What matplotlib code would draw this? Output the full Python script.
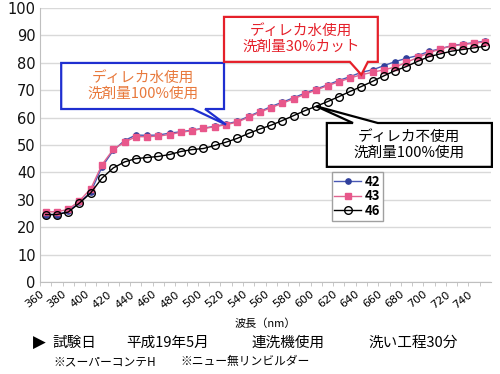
import numpy as np
import matplotlib
matplotlib.use('Agg')
import matplotlib.pyplot as plt
from matplotlib.patches import Polygon
from matplotlib.transforms import ScaledTranslation

plt.rcParams['font.family'] = ['Noto Sans CJK JP', 'DejaVu Sans']

# wavelength categories (nm)
wavelengths = list(range(360, 760, 10))

s42 = [24.6, 24.6, 25.8, 29.0, 32.8, 42.0, 48.0, 51.6, 53.6, 53.5,
       53.6, 54.3, 54.8, 55.4, 56.1, 56.8, 57.6, 58.6, 60.4, 62.2,
       64.0, 65.6, 67.2, 68.9, 70.4, 71.9, 73.5, 74.9, 76.5, 77.4,
       78.9, 80.4, 81.6, 82.6, 84.1, 85.1, 86.2, 86.8, 87.3, 87.9]
s43 = [25.6, 25.6, 26.5, 29.6, 34.0, 42.8, 48.4, 51.0, 53.0, 53.0,
       53.2, 53.8, 54.6, 55.2, 56.0, 56.6, 57.4, 58.3, 60.1, 61.9,
       63.6, 65.2, 66.8, 68.5, 70.0, 71.6, 73.0, 74.4, 75.6, 76.5,
       77.4, 78.4, 80.1, 81.9, 83.6, 85.0, 86.1, 86.6, 87.1, 87.6]
s46 = [24.6, 24.6, 25.5, 28.8, 32.5, 37.9, 41.6, 43.8, 45.0, 45.4,
       45.8, 46.5, 47.6, 48.3, 48.7, 49.8, 51.0, 52.4, 54.2, 55.8,
       57.2, 58.9, 60.7, 62.5, 64.1, 65.8, 67.6, 69.5, 71.3, 73.2,
       75.2, 77.1, 78.6, 80.5, 82.2, 83.2, 84.2, 84.8, 85.4, 86.0]

xticklabels = [str(w) for w in wavelengths[::2]]

fig = plt.figure(figsize=(5, 3.74), dpi=100)
ax = fig.add_axes([0.08, 0.246, 0.902, 0.733])

x = np.arange(len(wavelengths))
ax.plot(x, s42, color='#4858b4', lw=1, marker='o', ms=3.8,
        mfc='#2f3f9c', mec='#2f3f9c', label='42', zorder=3)
ax.plot(x, s43, color='#e0648f', lw=1, marker='s', ms=4.2,
        mfc='#e8578b', mec='#e8578b', label='43', zorder=3)
ax.plot(x, s46, color='black', lw=1, marker='o', ms=5.5,
        mfc='none', mec='black', mew=1, label='46', zorder=4)

ax.set_xlim(-0.5, len(wavelengths) - 0.5)
ax.set_ylim(0, 100)
ax.set_yticks(range(0, 101, 10))
ax.tick_params(axis='y', length=0, labelsize=10.5, pad=3, labelcolor='#111111')
for t in ax.get_yticklabels():
    t.set_family('DejaVu Sans')
ax.grid(axis='y', color='#d9d9d9', lw=1)
ax.set_axisbelow(True)

ax.set_xticks(x[::2])
ax.set_xticklabels(xticklabels, rotation=38, ha='right', va='center',
                   rotation_mode='anchor', fontsize=8, family='DejaVu Sans')
ax.set_xticks(x - 0.5, minor=True)
ax.tick_params(axis='x', which='major', length=0, pad=8)
ax.tick_params(axis='x', which='minor', length=3, color='#bfbfbf')
shift = ScaledTranslation(-3 / 100, 0, fig.dpi_scale_trans)
for t in ax.get_xticklabels():
    t.set_transform(t.get_transform() + shift)

for side in ['top', 'right']:
    ax.spines[side].set_visible(False)
for side in ['left', 'bottom']:
    ax.spines[side].set_color('#bfbfbf')

ax.set_xlabel('波長（nm）', fontsize=8, labelpad=6)

leg = ax.legend(loc='upper left', bbox_to_anchor=(0.647, 0.401),
                prop={'weight': 'bold', 'size': 9.5},
                fancybox=False, edgecolor='#a0a0a0', framealpha=1,
                labelspacing=0.05, handlelength=2.0, handletextpad=0.3,
                borderpad=0.2, borderaxespad=0)
leg.get_frame().set_linewidth(1)


def callout(x0, y0, x1, y1, bx0, bx1, side, tip, color, text, tcolor):
    tx, ty = ax.transAxes.inverted().transform(ax.transData.transform(tip))
    if side == 'bottom':
        pts = [(x0, y1), (x1, y1), (x1, y0), (bx1, y0), (tx, ty), (bx0, y0), (x0, y0)]
    else:
        pts = [(x0, y1), (bx0, y1), (tx, ty), (bx1, y1), (x1, y1), (x1, y0), (x0, y0)]
    ax.add_patch(Polygon(pts, closed=True, transform=ax.transAxes, fc='white',
                         ec=color, lw=1.6, clip_on=False, zorder=5,
                         joinstyle='miter'))
    ax.text((x0 + x1) / 2, (y0 + y1) / 2, text, transform=ax.transAxes,
            ha='center', va='center', color=tcolor, fontsize=10.5,
            linespacing=1.1, zorder=6)


callout(0.047, 0.631, 0.408, 0.799, 0.339, 0.366, 'bottom',
        (16, s43[16]), '#1f2fd0', 'ディレカ水使用\n洗剤量100%使用', '#e8793c')
callout(0.408, 0.803, 0.749, 0.967, 0.687, 0.727, 'bottom',
        (28, s43[28]), '#e5202a', 'ディレカ水使用\n洗剤量30%カット', '#e5202a')
callout(0.636, 0.420, 1.002, 0.580, 0.694, 0.749, 'top',
        (24, s46[24]), 'black', 'ディレカ不使用\n洗剤量100%使用', 'black')

# footer
fs = 10.5
fig.text(33 / 500, 1 - 343 / 374, '▶', fontsize=12, va='center',
         family=['DejaVu Sans'])
fig.text(52 / 500, 1 - 343 / 374, '試験日', fontsize=fs, va='center')
fig.text(126 / 500, 1 - 343 / 374, '平成19年5月', fontsize=fs, va='center')
fig.text(252 / 500, 1 - 343 / 374, '連洗機使用', fontsize=fs, va='center')
fig.text(368 / 500, 1 - 343 / 374, '洗い工程30分', fontsize=fs, va='center')
fig.text(53 / 500, 1 - 362 / 374, '※スーパーコンテH', fontsize=8.5, va='center')
fig.text(180 / 500, 1 - 362 / 374, '※ニュー無リンビルダー', fontsize=8.5, va='center')

fig.savefig('out.png', dpi=100)
